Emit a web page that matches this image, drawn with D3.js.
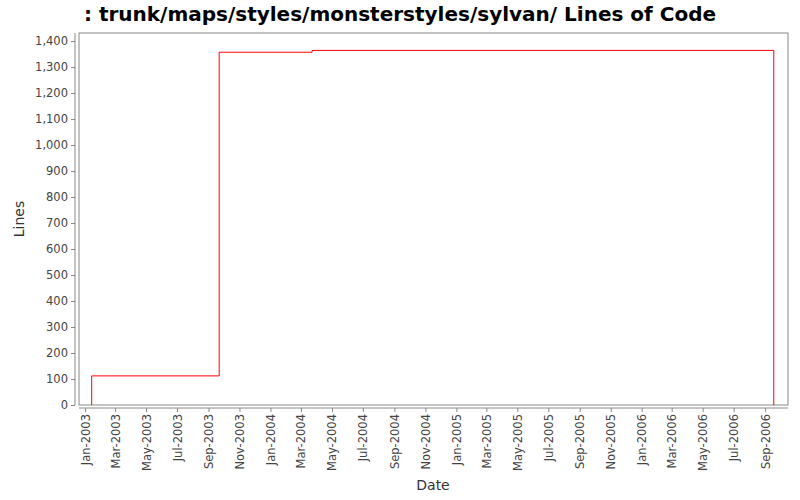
<!DOCTYPE html>
<html><head><meta charset="utf-8">
<script src="https://cdn.jsdelivr.net/npm/d3@7"></script>
<style>body{margin:0;background:#fff}</style></head>
<body><svg id="c" width="800" height="500"></svg>
<script>
const dates = ["2003-01-14","2003-01-14","2003-09-22","2004-03-23","2006-09-18","2006-09-18"];
const values = [0,112,1357,1364,1364,0];
const yTicks = [0,100,200,300,400,500,600,700,800,900,1000,1100,1200,1300,1400];
const tickMonths = ["2003-01","2003-03","2003-05","2003-07","2003-09","2003-11","2004-01","2004-03","2004-05","2004-07","2004-09","2004-11","2005-01","2005-03","2005-05","2005-07","2005-09","2005-11","2006-01","2006-03","2006-05","2006-07","2006-09"];

const svg = d3.select("#c");
const L=79,R=788,T=33,B=405;
const parse = d3.timeParse("%Y-%m-%d");
const x = d3.scaleTime().domain([parse("2002-12-20"), parse("2006-10-16")]).range([L,R]);
const y = d3.scaleLinear().domain([0,1431]).range([B,T]);
const font = "DejaVu Sans, sans-serif";

svg.append("text").attr("x",400).attr("y",21).attr("text-anchor","middle")
  .attr("font-family",font).attr("font-weight","bold").attr("font-size",20)
  .text(": trunk/maps/styles/monsterstyles/sylvan/ Lines of Code");

svg.append("rect").attr("x",L).attr("y",T).attr("width",R-L).attr("height",B-T)
  .attr("fill","#fff").attr("stroke","#888");

const ya = svg.append("g").attr("transform",`translate(${L-4},0)`)
  .call(d3.axisLeft(y).tickValues(yTicks).tickFormat(d3.format(",")).tickSize(4).tickPadding(3));
const xa = svg.append("g").attr("transform",`translate(0,${B+3})`)
  .call(d3.axisBottom(x).tickValues(tickMonths.map(m=>parse(m+"-01"))).tickFormat(d3.timeFormat("%b-%Y")).tickSize(4));
[ya,xa].forEach(g=>{g.selectAll("path,line").attr("stroke","#888");
  g.selectAll("text").attr("fill","#444").attr("font-family",font).attr("font-size",11.5);});
xa.select("path").attr("d",`M${L},0H${R}`);
ya.select("path").attr("d",`M0,${T}V${B}`);
xa.selectAll("text").attr("transform","rotate(-90)").attr("text-anchor","end")
  .attr("x",-6).attr("y",0).attr("dy","0.35em");

svg.append("text").attr("x",433).attr("y",490).attr("text-anchor","middle")
  .attr("font-family",font).attr("font-size",14).attr("fill","#333").text("Date");
svg.append("text").attr("transform","translate(24,219) rotate(-90)").attr("text-anchor","middle")
  .attr("font-family",font).attr("font-size",14).attr("fill","#333").text("Lines");

const pts = dates.map((d,i)=>[parse(d),values[i]]);
svg.append("path").datum(pts).attr("fill","none").attr("stroke","#ff0000").attr("stroke-width",1)
  .attr("d",d3.line().x(d=>x(d[0])).y(d=>y(d[1])).curve(d3.curveStepAfter));
</script></body></html>
